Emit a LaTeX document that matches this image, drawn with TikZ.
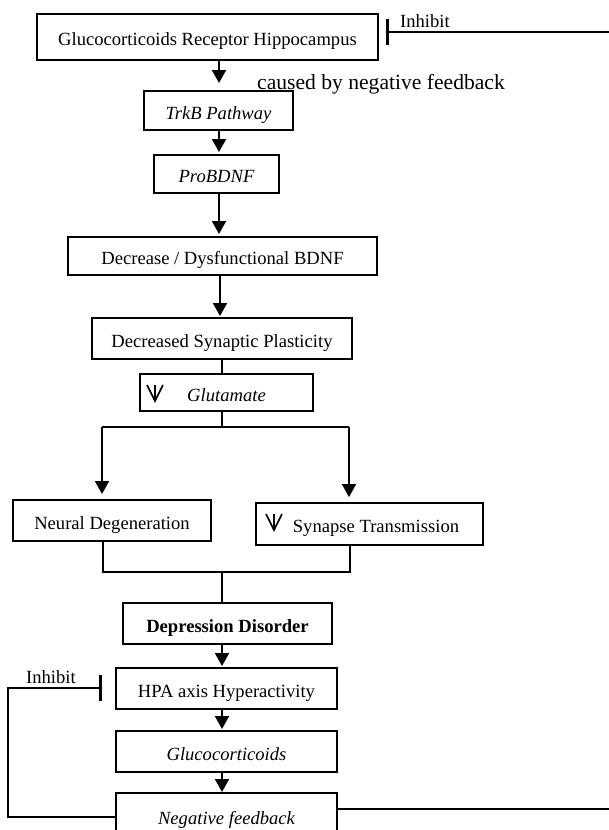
\documentclass[tikz,border=0pt]{standalone}
\usepackage{fontspec}
\setmainfont{Liberation Serif}
\usetikzlibrary{arrows.meta,calc}
\begin{document}
\begin{tikzpicture}[x=1pt,y=-1pt,
  box/.style={draw, line width=2pt, inner sep=0pt, text height=17.5pt, text depth=0.5pt,
              font=\fontsize{18.6}{22}\selectfont},
  lbl/.style={font=\fontsize{18.6}{22}\selectfont, inner sep=0pt, anchor=base},
  ln/.style={line width=2pt},
  arr/.style={ln, -{Triangle[width=14pt,length=13pt]}},
  inh/.style={ln, -{Bar[width=26pt, line width=3pt]}},
  dsym/.style={line width=1.6pt, line join=miter}]
\useasboundingbox (0,0) rectangle (609,830);
\clip (0,0) rectangle (609,830);

% boxes
\node[box, minimum width=341pt, minimum height=46pt] (b1) at (207.5,37) {Glucocorticoids Receptor Hippocampus};
\node[box, minimum width=149pt, minimum height=39pt] (trkb) at (218.5,110.5) {\itshape TrkB Pathway};
\node[box, minimum width=125pt, minimum height=38pt] (pro) at (216.5,174) {\itshape ProBDNF};
\node[box, minimum width=309pt, minimum height=38pt] (dec) at (222.5,256) {Decrease / Dysfunctional BDNF};
\node[box, minimum width=260pt, minimum height=41pt] (syn) at (222,338.5) {Decreased Synaptic Plasticity};
\node[box, minimum width=173pt, minimum height=37pt] (glu) at (226.5,392.5) {\itshape Glutamate};
\node[box, minimum width=198pt, minimum height=41pt] (neu) at (112,520.5) {Neural Degeneration};
\node[box, minimum width=227pt, minimum height=42pt] (st) at (369.5,524) {\hspace*{13pt}Synapse Transmission};
\node[box, minimum width=209pt, minimum height=41pt] (dep) at (227.5,623.5) {\bfseries Depression Disorder};
\node[box, minimum width=221pt, minimum height=41pt] (hpa) at (226.5,688.5) {HPA axis Hyperactivity};
\node[box, minimum width=221pt, minimum height=41pt] (gc) at (226.5,751.5) {\itshape Glucocorticoids};
\node[box, minimum width=221pt, minimum height=45pt] (nf) at (226.5,815.5) {\itshape Negative feedback};

% down-arrow symbols
\draw[dsym] (147,385) -- (155,401) -- (163,385) (155,385) -- (155,401);
\draw[dsym] (266,514) -- (274,530) -- (282,514) (274,514) -- (274,530);

% labels
\node[lbl] (inh1) at (425,27) {Inhibit};
\node[lbl] (inh2) at (51,683) {Inhibit};
\node[lbl, font=\fontsize{21.6}{26}\selectfont] (cap) at (381,89) {caused by negative feedback};

% spine coordinates
\coordinate (sp1) at (219,0);
\coordinate (sp2) at (220,0);
\coordinate (sp3) at (222,0);
\coordinate (spL) at (102,427);
\coordinate (spR) at (349,427);
\coordinate (jL) at (103,572);
\coordinate (jR) at (350,572);
\coordinate (jM) at (222,572);

% connectors
\draw[arr, shorten >=7pt] (sp1 |- b1.south) -- (sp1 |- trkb.north);
\draw[arr, shorten >=2pt] (sp1 |- trkb.south) -- (sp1 |- pro.north);
\draw[arr, shorten >=2pt] (sp1 |- pro.south) -- (sp1 |- dec.north);
\draw[arr, shorten >=1pt] (sp2 |- dec.south) -- (sp2 |- syn.north);
\draw[ln] (sp3 |- syn.south) -- (sp3 |- glu.north);
\draw[ln] (sp3 |- glu.south) -- (sp3 |- spL);
\draw[ln] (spL) -- (spR);
\draw[arr, shorten >=5pt] (spL) -- (spL |- neu.north);
\draw[arr, shorten >=5pt] (spR) -- (spR |- st.north);
\draw[ln] (jL |- neu.south) -- (jL) -- (jR) -- (jR |- st.south);
\draw[ln] (jM) -- (jM |- dep.north);
\draw[arr, shorten >=1pt] (jM |- dep.south) -- (jM |- hpa.north);
\draw[arr, shorten >=1pt] (jM |- hpa.south) -- (jM |- gc.north);
\draw[arr, shorten >=0pt] (jM |- gc.south) -- (jM |- nf.north);

% feedback loops
\coordinate (lcorner) at (8,688);
\coordinate (lbar) at (102,688);
\draw[inh] ([yshift=-1.5pt]nf.west) -| (lcorner) -- (lbar);
\coordinate (rtop) at (609,32);
\coordinate (rbar) at (386,32);
\draw[inh] (rtop) -- (rbar);
\coordinate (rbot) at (609,809);
\draw[ln] ([yshift=6.5pt]nf.east) -- (rbot);
\end{tikzpicture}
\end{document}
